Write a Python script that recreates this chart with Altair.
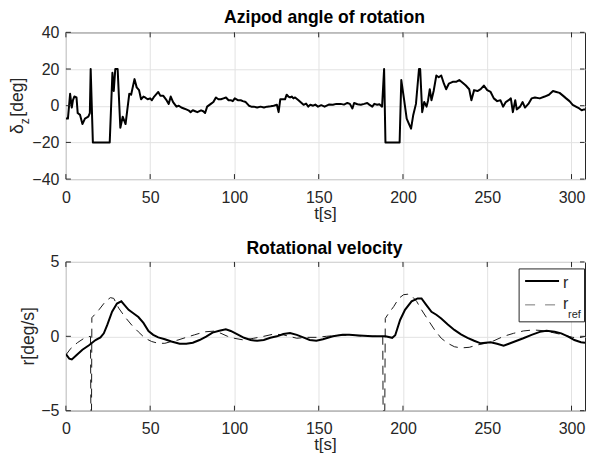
import altair as alt
import pandas as pd

# ---------------- data ----------------
t_delta = [0, 1.2, 2.5, 3.5, 4.2, 5, 6.3, 7, 8.4, 9.8, 11.3, 13.3, 14.2, 14.7, 16, 26,
           27.6, 28.4, 29.3, 30.7, 32.3, 33.7, 35.4, 37.6, 38.7, 40.7, 42, 43.4, 44.6, 46,
           47, 48.5, 50, 51, 52.4, 54.8, 56, 57.7, 59.7, 61, 62.2, 63.6, 65.6, 67, 68.5,
           70, 71.4, 72.7, 74, 75.3, 76.7, 78, 80.2, 81.5, 82.6, 83.8, 86, 87.5, 89, 90.5,
           92, 93.5, 95, 96.5, 97.8, 99, 100.2, 102, 103.7, 105, 106.7, 108.6, 110, 111.5,
           113.5, 115.5, 117.5, 119.4, 121.5, 123.3, 125.2, 126.2, 127.2, 130, 131, 132,
           133, 134, 135, 136, 138, 141, 142.5, 143.8, 145, 146.7, 148, 149.6, 151.5,
           153.5, 156, 158.4, 160.5, 163, 165, 167, 168.5, 170, 171, 173, 175, 177, 178.8,
           180, 181.8, 183, 184.7, 186, 187.6, 188.8, 189.6, 198, 199, 200.7, 202.2, 203.6,
           204.8, 206.1, 207.7, 209.5, 210.2, 211.4, 212.6, 214, 214.9, 215.9, 216.9, 218.2,
           219.8, 221.2, 222.7, 224.3, 225.6, 227.2, 229.5, 231.5, 233.4, 235.4, 237.3,
           239.3, 240.6, 242.2, 244.2, 246.1, 248, 250, 252, 253.9, 255.9, 257.8, 259.4,
           261, 262.7, 264, 265.2, 266.6, 267.5, 269.5, 271, 272.4, 274.4, 276.3, 278.3,
           281.2, 284.1, 286.6, 289, 291, 292.9, 294.9, 296.8, 298.8, 300.7, 302.6, 304.6,
           306, 307.5, 308]
delta = [-7, -7, 6.5, -1, 3, 5, 4.5, -4, -5, -10, -7, -6, -4, 20, -20, -20,
         18, 8, 20, 20, -12, -6, -10, 6.5, 6, 14.5, 10, 8.5, 3.5, 5,
         4.5, 3.5, 4, 3, 5, 7.5, 5.5, 5.5, 3, 1, 5, 2, -0.5, 0, -1,
         -1.5, -2, -2.5, -3.5, -2.5, -3, -3.5, -2.5, -3, -4, -0.5, 1, 2, 4.5, 3.5,
         3.5, 4, 4.5, 3, 3, 2.5, 4, 3, 3, 2.5, 2, 0, -0.5, -0.5,
         -1, -0.5, -1, -0.5, -0.3, 0, 0.5, -3.5, 3.5, 3.5, 6, 5,
         4.5, 5, 4, 4.5, 3, 0.5, 1.2, -0.5, 0.5, 0, 0.6, -0.5, 0.3,
         -0.5, 0.6, 0.5, 1, 1, 0.6, 1.5, 1, -1.5, 1.5, 0.8, 0.5, 1, 1.5,
         0.6, -0.5, 1, 0.5, 0.8, -0.5, 20, -20, -20, 14, 3, -7, -10,
         -12.5, -5, 1, 20, 20, -3.5, 2, -0.5, 3, 9, 3, 8,
         16.5, 15.5, 16.5, 12, 9, 12, 13, 13, 14, 12.5, 11,
         9, 3, 8.5, 8, 9, 11, 8.5, 7.5, 4, 2.5, 3, -0.5,
         2, 3, 4, -3.5, 3, -2, -0.5, 2, -1, 1, 4, 4.5,
         4, 5, 6, 8, 7.5, 7, 5.5, 4, 2.5, 0.5, -0.5, -1.5,
         -2.5, -2, -2]

t_r = [0, 2, 3.5, 5.9, 9.8, 13.7, 17.6, 20.5, 22.5, 24.5, 27.4, 30.3, 32.9, 34.8, 37.2,
       40, 43, 46, 49, 51.8, 54.8, 58.7, 62.6, 67.5, 71.4, 75.3, 79.3, 83.2, 87, 91,
       94.9, 97.8, 101.8, 105.7, 109.6, 113.5, 117.4, 121.3, 125.2, 129, 133, 137,
       140.8, 144.7, 148.6, 152.5, 158.4, 164.2, 168.1, 174, 181.8, 189.6, 193.6, 195.4,
       198.3, 201.2, 205.1, 208.7, 211, 213.9, 216.9, 219.8, 222.7, 226.6, 230.5, 234.4,
       238.3, 242.2, 246.1, 249, 252, 255.8, 259.7, 263.6, 267.5, 271.4, 276.3, 281.2,
       285.1, 290, 293.9, 297.8, 301.7, 305.6, 308]
r = [-1.2, -1.5, -1.55, -1.3, -0.9, -0.6, -0.25, -0.07, 0.2, 0.75, 1.65, 2.2, 2.35, 2.1,
     1.78, 1.55, 1.3, 0.9, 0.35, 0.1, -0.07, -0.2, -0.35, -0.5, -0.5, -0.43, -0.25, -0.02,
     0.25, 0.38, 0.47, 0.36, 0.13, -0.1, -0.25, -0.3, -0.25, -0.1, 0, 0.15, 0.22, 0.1,
     -0.07, -0.25, -0.3, -0.2, 0, 0.1, 0.1, 0.05, 0, 0, -0.1, 0.07,
     1.1, 1.78, 2.35, 2.55, 2.55, 2.1, 1.65, 1.45, 1.2, 0.8, 0.43, 0.13,
     -0.1, -0.3, -0.47, -0.43, -0.4, -0.5, -0.63, -0.47, -0.3, -0.13, 0.1, 0.3,
     0.38, 0.3, 0.2, 0, -0.25, -0.4, -0.43]

t_ref = [0, 3, 6.8, 10.8, 13.7, 14.6, 14.8, 15.2, 15.4, 19.6, 23.5, 26.4, 28.4, 31.3,
         35.2, 39.1, 43, 47, 50.9, 54.8, 58.7, 62.6, 66.5, 71.4, 76.3, 82.2, 88, 92,
         95.9, 99.8, 105.7, 111.5, 117.4, 123.3, 129, 137, 142.7, 148.6, 154.5, 162.3,
         170, 177.9, 185.7, 188.0, 188.2, 189.2, 189.5, 191.5, 194.5, 197.5, 200.4,
         202.9, 205.2, 208.1, 211, 214.9, 218.8, 222.7, 226.6, 230.5, 234.4, 239.3,
         244.2, 249, 253.9, 259.7, 265.6, 271.4, 277.3, 283.1, 289, 294.9, 300.7,
         304.6, 308]
r_ref = [-1.25, -0.8, -0.43, -0.13, -0.02, 0, -5, -5, 1.25, 1.78, 2.35, 2.6, 2.55, 1.9,
         1.28, 0.75, 0.3, -0.13, -0.35, -0.47, -0.47, -0.35, -0.25, -0.07, 0.1, 0.3, 0.35,
         0.2, 0, -0.13, -0.25, -0.13, 0, 0.15, 0.1, -0.13, -0.07, -0.07, 0, 0.07,
         0.07, 0, 0, 0, -5, -5, 1.2, 1.55, 2, 2.55, 2.8,
         2.83, 2.72, 2.35, 1.78, 1.1, 0.43, -0.13, -0.47, -0.7, -0.78, -0.74,
         -0.58, -0.47, -0.3, 0, 0.2, 0.36, 0.43, 0.38, 0.25, 0.1, -0.07,
         -0.1, 0]

x_ticks = [0, 50, 100, 150, 200, 250, 300]
y_ticks_top = [-40, -20, 0, 20, 40]
y_ticks_bot = [-5, 0, 5]

title_top = "Azipod angle of rotation"
title_bot = "Rotational velocity"
x_title = "t[s]"
y_title_bot = "r[deg/s]"

# ---------------- style ----------------
FONT = "Liberation Sans"
FRAME = "#262626"
GRID = "#e2e2e2"
W = 520
H1 = 147
H2 = 149
TL = 5  # inward tick length

x_scale = alt.Scale(domain=[0, 308], nice=False, zero=False)


def x_axis():
    return alt.Axis(values=x_ticks, title=None, ticks=False, domain=False,
                    grid=True, gridColor=GRID, labelFontSize=16, labelFont=FONT,
                    labelColor=FRAME, labelPadding=10, labelFlush=False)


def y_axis(vals):
    return alt.Axis(values=vals, title=None, ticks=False, domain=False, grid=True,
                    gridColor=GRID, labelFontSize=16, labelFont=FONT, labelColor=FRAME,
                    labelPadding=7)


def text_layer(s, x, y, size, angle=0, weight="normal", align="center",
               baseline="alphabetic", color=FRAME):
    kw = dict(align=align, baseline=baseline, font=FONT, fontSize=size,
              fontWeight=weight, color=color)
    if angle:
        kw["angle"] = angle
    return alt.Chart(pd.DataFrame({"s": [s]})).mark_text(**kw).encode(
        text="s:N", x=alt.value(x), y=alt.value(y))


def tick_layers(y_scale, yvals, h):
    xt = pd.DataFrame({"v": x_ticks})
    yt = pd.DataFrame({"v": yvals})
    base_x = alt.Chart(xt).mark_rule(color=FRAME, strokeWidth=1)
    base_y = alt.Chart(yt).mark_rule(color=FRAME, strokeWidth=1)
    xs = alt.X("v:Q", scale=x_scale, axis=x_axis())
    ys = alt.Y("v:Q", scale=y_scale, axis=y_axis(yvals))
    return [
        base_x.encode(x=xs, y=alt.value(0), y2=alt.value(TL)),
        base_x.encode(x=xs, y=alt.value(h - TL), y2=alt.value(h)),
        base_y.encode(y=ys, x=alt.value(0), x2=alt.value(TL)),
        base_y.encode(y=ys, x=alt.value(W - TL), x2=alt.value(W - 0.5)),
    ]


# ---------------- top panel ----------------
df_top = pd.DataFrame({"t": t_delta, "delta": delta})
y_scale_top = alt.Scale(domain=[-40, 40], nice=False)

line_top = alt.Chart(df_top).mark_line(color="black", strokeWidth=2, clip=True,
                                      strokeJoin="round").encode(
    x=alt.X("t:Q", scale=x_scale, axis=x_axis()),
    y=alt.Y("delta:Q", scale=y_scale_top, axis=y_axis(y_ticks_top)),
)

top_texts = [
    text_layer(title_top, W / 2 - 1, -9, 17.6, weight="bold", color="black"),
    text_layer(x_title, W / 2, H1 + 40, 17),
    text_layer("δ", -48, 97, 17.6, angle=270, baseline="middle"),
    text_layer("z", -41, 89, 12, angle=270, baseline="middle"),
    text_layer("[deg]", -48, 65, 17.6, angle=270, baseline="middle"),
]

top = alt.layer(line_top, *tick_layers(y_scale_top, y_ticks_top, H1), *top_texts).properties(
    width=W, height=H1)

# ---------------- bottom panel ----------------
df_r = pd.DataFrame({"t": t_r, "v": r})
df_ref = pd.DataFrame({"t": t_ref, "v": r_ref})
y_scale_bot = alt.Scale(domain=[-5, 5], nice=False)

line_ref = alt.Chart(df_ref).mark_line(color="#1a1a1a", strokeWidth=1, strokeDash=[9, 6],
                                      clip=True).encode(
    x=alt.X("t:Q", scale=x_scale, axis=x_axis()),
    y=alt.Y("v:Q", scale=y_scale_bot, axis=y_axis(y_ticks_bot)),
)
line_r = alt.Chart(df_r).mark_line(color="black", strokeWidth=2, clip=True).encode(
    x=alt.X("t:Q", scale=x_scale, axis=x_axis()),
    y=alt.Y("v:Q", scale=y_scale_bot, axis=y_axis(y_ticks_bot)),
)

one = pd.DataFrame({"k": [0]})
leg_box = alt.Chart(one).mark_rect(fill="white", stroke=FRAME, strokeWidth=1).encode(
    x=alt.value(W - 66), x2=alt.value(W - 0.5), y=alt.value(7), y2=alt.value(60))
leg_r = alt.Chart(one).mark_rule(color="black", strokeWidth=2).encode(
    x=alt.value(W - 60), x2=alt.value(W - 26), y=alt.value(19))
leg_ref = alt.Chart(one).mark_rule(color="#777777", strokeWidth=1, strokeDash=[10, 10]).encode(
    x=alt.value(W - 60), x2=alt.value(W - 26), y=alt.value(43))

bot_texts = [
    text_layer(title_bot, W / 2 - 1, -8, 17.6, weight="bold", color="black"),
    text_layer(x_title, W / 2, H2 + 39.5, 17),
    text_layer(y_title_bot, -37, H2 / 2, 17.6, angle=270, baseline="middle"),
    text_layer("r", W - 22, 26, 16, align="left"),
    text_layer("r", W - 22, 47, 16, align="left"),
    text_layer("ref", W - 17, 56, 11, align="left"),
]

bot = alt.layer(line_ref, line_r, *tick_layers(y_scale_bot, y_ticks_bot, H2),
                leg_box, leg_r, leg_ref, *bot_texts).properties(width=W, height=H2)

chart = alt.vconcat(top, bot, spacing=83, bounds="flush").properties(
    padding={"left": 0, "top": 0, "right": 0, "bottom": 0},
    background="white",
).configure_view(stroke=FRAME, strokeWidth=1)

chart.save("out.html", embed_options={"renderer": "svg", "actions": False})
